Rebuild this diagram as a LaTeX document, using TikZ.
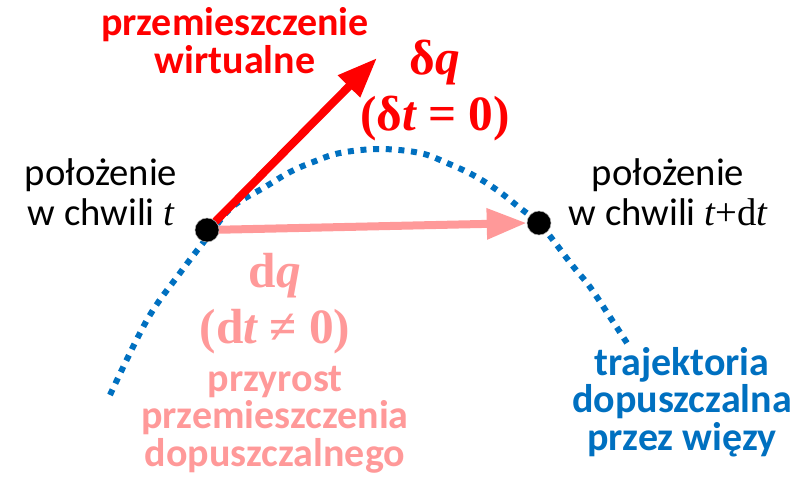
\documentclass[tikz,border=0pt]{standalone}
\usepackage{fontspec}
\setmainfont{Carlito}
\newfontfamily\tnr{Liberation Serif}
\usetikzlibrary{arrows.meta, backgrounds}

\definecolor{virtred}{RGB}{255,0,0}
\definecolor{realpink}{RGB}{255,153,153}
\definecolor{trajblue}{RGB}{0,112,192}

\begin{document}
\begin{tikzpicture}[
    x=0.75pt, y=-0.75pt,
    every node/.style={align=center, inner sep=0pt},
    arrow/.style={-{Triangle[length=30pt, width=22pt]}, line width=6pt},
]

% --- Style definitions ---
\tikzset{
    posdot/.style = {circle, fill=black, draw=gray!60, line width=0.4pt, minimum size=18pt},
    lbl/.style = {anchor=base, font=\fontsize{29}{29.5}\selectfont, text=black},
    boldlbl/.style = {anchor=base, font=\fontsize{30}{28}\selectfont\bfseries},
    sym/.style = {anchor=base, font=\tnr\fontsize{37}{41.5}\selectfont\bfseries},
    traj/.style = {line width=4.5pt, color=trajblue, dash pattern=on 4.5pt off 5pt},
}

\useasboundingbox (0,0) rectangle (798,476);

% --- Positions at t and t+dt ---
\node (pos-t) [posdot] at (207,230) {};
\node (pos-tdt) [posdot] at (539,223) {};
\coordinate (virt-tip) at (377,58);

% --- Labels (placed at the baseline of the last line) ---
\node (lbl-t) [lbl] at (101,225) {położenie\\w chwili {\tnr\itshape t}};
\node (lbl-tdt) [lbl] at (668,225) {położenie\\w chwili {\tnr\itshape t\upshape+d\itshape t}};

\node (virt-lbl) [boldlbl, text=virtred] at (235,73) {przemieszczenie\\wirtualne};
\node (virt-sym) [sym, text=virtred] at (435,130) {δ{\itshape q}\\(δ{\itshape t} = 0)};

\node (real-sym) [sym, text=realpink] at (275,343) {d{\itshape q}\\(d{\itshape t} ≠ 0)};
\node (real-lbl) [boldlbl, text=realpink] at (275,466) {przyrost\\przemieszczenia\\dopuszczalnego};

\node (traj-lbl) [boldlbl, text=trajblue] at (682,450) {trajektoria\\dopuszczalna\\przez więzy};

% --- Trajectory and displacements (behind the dots) ---
\begin{scope}[on background layer]
    \draw [traj] plot [smooth, tension=0.6] coordinates {
        (110,395) (147,320) (180,273) (210,234) (232,207) (265,187) (290,172)
        (313,162) (340,153) (380,149) (420,153) (447,163) (473,175) (497,190)
        (520,208) (539,223) (553,240) (572,265) (590,287) (610,317) (627,343)};
    \draw [arrow, color=virtred] (pos-t.center) -- (virt-tip);
    \draw [arrow, color=realpink] (pos-t.center) -- (pos-tdt.west);
\end{scope}

\end{tikzpicture}
\end{document}
